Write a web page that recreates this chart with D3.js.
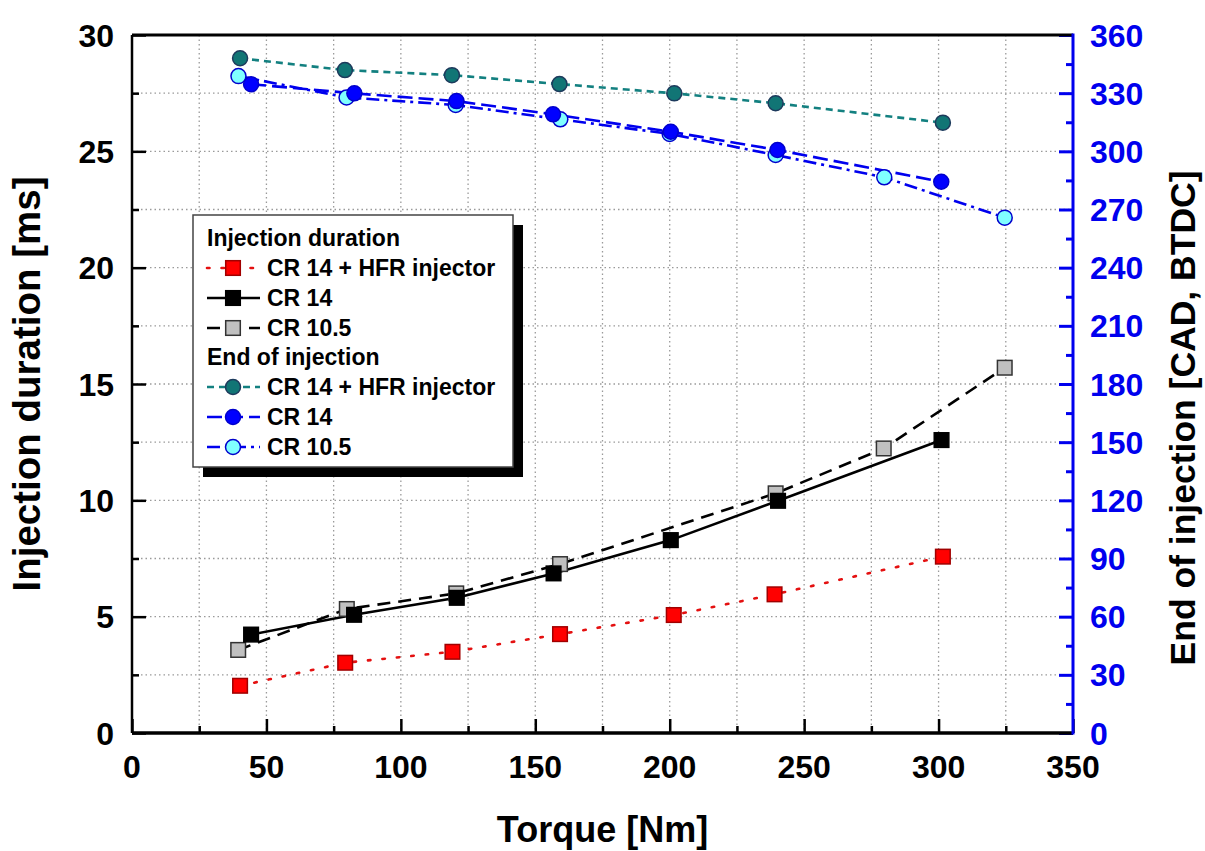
<!DOCTYPE html>
<html><head><meta charset="utf-8">
<script src="https://cdn.jsdelivr.net/npm/d3@7"></script>
<style>
html,body{margin:0;padding:0;background:#fff;}
svg text{font-family:"Liberation Sans",Arial,sans-serif;font-weight:bold;}
</style></head>
<body><svg id="c" width="1205" height="851"></svg>
<script>
// ---- Data ----
const xTicks = [0,50,100,150,200,250,300,350];
const yLeftTicks = [0,5,10,15,20,25,30];
const yRightTicks = [0,30,60,90,120,150,180,210,240,270,300,330,360];

// Injection duration [ms]
const durHfrTorque = [40.2, 79.3, 119.2, 159.2, 201.5, 239.0, 301.6];
const durHfrValue  = [2.03, 3.02, 3.49, 4.25, 5.07, 5.96, 7.58];
const durCr14Torque = [44.3, 82.6, 120.8, 156.8, 200.4, 240.3, 301.1];
const durCr14Value  = [4.23, 5.08, 5.81, 6.86, 8.29, 9.98, 12.59];
const durCr105Torque = [39.5, 79.9, 120.6, 159.2, 239.4, 279.6, 324.6];
const durCr105Value  = [3.57, 5.33, 6.00, 7.26, 10.30, 12.23, 15.70];

// End of injection [CAD, BTDC]
const eoiHfrTorque = [40.2, 79.2, 119.0, 159.0, 201.7, 239.4, 301.6];
const eoiHfrValue  = [348.0, 341.9, 339.3, 334.7, 329.9, 324.8, 314.8];
const eoiCr14Torque = [44.3, 82.7, 120.7, 156.6, 200.4, 240.1, 301.0];
const eoiCr14Value  = [334.6, 329.9, 325.9, 319.1, 310.1, 300.7, 284.3];
const eoiCr105Torque = [39.6, 79.8, 120.4, 159.3, 200.0, 239.4, 279.8, 324.6];
const eoiCr105Value  = [338.8, 327.8, 323.9, 316.5, 309.0, 298.1, 286.6, 265.8];

const legendLabels = ["CR 14 + HFR injector","CR 14","CR 10.5"];

// ---- Layout ----
const svg = d3.select("#c");
const L = 132, R = 1073, T = 35, B = 733;
const x = d3.scaleLinear().domain([0,350]).range([L,R]);
const yL = d3.scaleLinear().domain([0,30]).range([B,T]);
const yR = d3.scaleLinear().domain([0,360]).range([B,T]);

const zip = (a,b) => a.map((v,i)=>[v,b[i]]);

// grid
const g = svg.append("g");
d3.range(25,350,25).forEach(v=>{
  g.append("line").attr("x1",x(v)).attr("x2",x(v)).attr("y1",T).attr("y2",B)
   .attr("stroke","#9a9a9a").attr("stroke-width",1.3).attr("stroke-dasharray","1.5,3");
});
d3.range(2.5,30,2.5).forEach(v=>{
  g.append("line").attr("x1",L).attr("x2",R).attr("y1",yL(v)).attr("y2",yL(v))
   .attr("stroke","#9a9a9a").attr("stroke-width",1.3).attr("stroke-dasharray","1.5,3");
});

// axes
const axB = svg.append("g").attr("transform",`translate(0,${B})`)
  .call(d3.axisTop(x).tickValues(d3.range(0,351,25)).tickSize(7).tickFormat(""));
axB.selectAll(".tick line").attr("stroke","#000").attr("stroke-width",2.5)
  .attr("y2",(d)=> d%50===0 ? -14 : -7);
axB.select(".domain").remove();
svg.append("g").selectAll("text").data(xTicks).join("text")
  .attr("x",d=>x(d)).attr("y",778).attr("text-anchor","middle")
  .attr("font-size",32).attr("fill","#000").text(d=>d);

const axLft = svg.append("g").attr("transform",`translate(${L},0)`)
  .call(d3.axisRight(yL).tickValues(d3.range(0,30.1,2.5)).tickFormat(""));
axLft.selectAll(".tick line").attr("stroke","#000").attr("stroke-width",2.5)
  .attr("x2",d=> d%5===0 ? 14 : 7);
axLft.select(".domain").remove();
svg.append("g").selectAll("text").data(yLeftTicks).join("text")
  .attr("x",114).attr("y",d=>yL(d)).attr("dy","0.36em").attr("text-anchor","end")
  .attr("font-size",32).attr("fill","#000").text(d=>d);

const axRt = svg.append("g").attr("transform",`translate(${R},0)`)
  .call(d3.axisLeft(yR).tickValues(d3.range(0,361,15)).tickFormat(""));
axRt.selectAll(".tick line").attr("stroke","#0000ee").attr("stroke-width",3)
  .attr("x2",d=> d%30===0 ? -14 : -7);
axRt.select(".domain").remove();
svg.append("g").selectAll("text").data(yRightTicks).join("text")
  .attr("x",1090).attr("y",d=>yR(d)).attr("dy","0.36em").attr("text-anchor","start")
  .attr("font-size",32).attr("fill","#0000ee").text(d=>d);

// frame lines
svg.append("line").attr("x1",L).attr("x2",R).attr("y1",T).attr("y2",T).attr("stroke","#000").attr("stroke-width",3);
svg.append("line").attr("x1",L).attr("x2",R).attr("y1",B).attr("y2",B).attr("stroke","#000").attr("stroke-width",3.5);
svg.append("line").attr("x1",L).attr("x2",L).attr("y1",T).attr("y2",B).attr("stroke","#000").attr("stroke-width",2.5);
svg.append("line").attr("x1",R).attr("x2",R).attr("y1",T-1.5).attr("y2",B+1.5).attr("stroke","#0000ee").attr("stroke-width",3);

// axis titles
svg.append("text").attr("x",(L+R)/2).attr("y",842).attr("text-anchor","middle")
  .attr("font-size",36).attr("fill","#000").text("Torque [Nm]");
svg.append("text").attr("transform",`translate(40,${(T+B)/2}) rotate(-90)`).attr("text-anchor","middle")
  .attr("font-size",38.5).attr("fill","#000").text("Injection duration [ms]");
svg.append("text").attr("transform",`translate(1195,418) rotate(-90)`).attr("text-anchor","middle")
  .attr("font-size",35.5).attr("fill","#000").text("End of injection [CAD, BTDC]");

// series
const series = [
  {t:eoiCr105Torque, v:eoiCr105Value, y:yR, stroke:"#0000ee", dash:"13,5,3,5", shape:"circle", fill:"#80ffff", mstroke:"#0000cc"},
  {t:eoiCr14Torque, v:eoiCr14Value, y:yR, stroke:"#0000ee", dash:"15,6", shape:"circle", fill:"#0000ff", mstroke:"#0000cc"},
  {t:eoiHfrTorque, v:eoiHfrValue, y:yR, stroke:"#138080", dash:"7,5", shape:"circle", fill:"#117575", mstroke:"#1d3a5c"},
  {t:durCr105Torque, v:durCr105Value, y:yL, stroke:"#000", dash:"13,8", shape:"square", fill:"#c0c0c0", mstroke:"#333"},
  {t:durCr14Torque, v:durCr14Value, y:yL, stroke:"#000", dash:null, shape:"square", fill:"#000", mstroke:"#000"},
  {t:durHfrTorque, v:durHfrValue, y:yL, stroke:"#e41010", dash:"2.5,12", shape:"square", fill:"#ff0000", mstroke:"#a00000"}
];
const line = d3.line();
series.forEach(s=>{
  const pts = zip(s.t,s.v).map(d=>[x(d[0]), s.y(d[1])]);
  svg.append("path").attr("d",line(pts)).attr("fill","none").attr("stroke",s.stroke)
    .attr("stroke-width",2.6).attr("stroke-dasharray",s.dash)
    .attr("stroke-linecap", s.dash==="2.5,12" ? "round" : "butt");
});
function marker(sel, shape, cx, cy, fill, stroke){
  if(shape==="circle"){
    sel.append("circle").attr("cx",cx).attr("cy",cy).attr("r",7.5).attr("fill",fill)
      .attr("stroke",stroke).attr("stroke-width",1.5);
  } else {
    sel.append("rect").attr("x",cx-7.3).attr("y",cy-7.3).attr("width",14.6).attr("height",14.6)
      .attr("fill",fill).attr("stroke",stroke).attr("stroke-width",1.5);
  }
}
series.forEach(s=>{
  const gm = svg.append("g");
  zip(s.t,s.v).forEach(d=> marker(gm, s.shape, x(d[0]), s.y(d[1]), s.fill, s.mstroke));
});

// legend
const lg = svg.append("g");
lg.append("rect").attr("x",203).attr("y",225).attr("width",320).attr("height",252).attr("fill","#000");
lg.append("rect").attr("x",193).attr("y",215).attr("width",320).attr("height",252)
  .attr("fill","#fff").attr("stroke","#444").attr("stroke-width",1.5);
const rows = [
  {head:"Injection duration", y:238},
  {s:series[5], lab:legendLabels[0], y:268},
  {s:series[4], lab:legendLabels[1], y:298},
  {s:series[3], lab:legendLabels[2], y:328},
  {head:"End of injection", y:357},
  {s:series[2], lab:legendLabels[0], y:387},
  {s:series[1], lab:legendLabels[1], y:417},
  {s:series[0], lab:legendLabels[2], y:447}
];
rows.forEach(r=>{
  if(r.head){
    lg.append("text").attr("x",207).attr("y",r.y).attr("dy","0.36em").attr("font-size",23)
      .attr("fill","#000").text(r.head);
  } else {
    lg.append("line").attr("x1",207).attr("x2",260).attr("y1",r.y).attr("y2",r.y)
      .attr("stroke",r.s.stroke).attr("stroke-width",2.6).attr("stroke-dasharray",r.s.dash)
      .attr("stroke-linecap", r.s.dash==="2.5,12" ? "round" : "butt");
    marker(lg, r.s.shape, 233, r.y, r.s.fill, r.s.mstroke);
    lg.append("text").attr("x",267).attr("y",r.y).attr("dy","0.36em").attr("font-size",23)
      .attr("fill","#000").text(r.lab);
  }
});
</script></body></html>
